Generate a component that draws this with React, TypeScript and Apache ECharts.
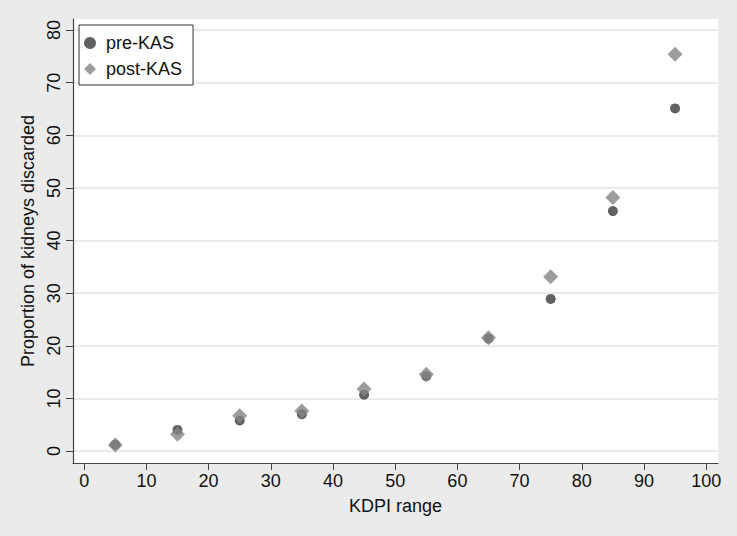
import React, { useEffect, useRef } from "react";
import * as echarts from "echarts";

const kdpiRange = [5, 15, 25, 35, 45, 55, 65, 75, 85, 95];
const preKAS = [1.2, 4.0, 5.8, 7.0, 10.7, 14.2, 21.4, 28.9, 45.6, 65.1];
const postKAS = [1.15, 3.2, 6.7, 7.6, 11.8, 14.6, 21.5, 33.1, 48.2, 75.4];
const xTicks = [0, 10, 20, 30, 40, 50, 60, 70, 80, 90, 100];
const yTicks = [0, 10, 20, 30, 40, 50, 60, 70, 80];

const FONT = 'Arial, "Liberation Sans", sans-serif';

export default function App() {
  const ref = useRef<HTMLDivElement>(null);
  useEffect(() => {
    if (!ref.current) return;
    const chart = echarts.init(ref.current, null, { renderer: "svg" });
    chart.setOption({
      animation: false,
      backgroundColor: "#ebebeb",
      textStyle: { fontFamily: FONT },
      grid: {
        left: 73,
        right: 19,
        top: 19,
        bottom: 73,
        show: true,
        backgroundColor: "#ffffff",
        borderWidth: 0,
      },
      legend: {
        orient: "vertical",
        left: 79,
        top: 25,
        padding: [9, 11, 7, 5],
        itemGap: 8,
        itemWidth: 12,
        itemHeight: 12,
        backgroundColor: "#ffffff",
        borderColor: "#333333",
        borderWidth: 1,
        borderRadius: 0,
        textStyle: { fontSize: 18, color: "#111", fontFamily: FONT, padding: [0, 0, 0, 5] },
        data: [
          { name: "pre-KAS", icon: "circle" },
          { name: "post-KAS", icon: "diamond" },
        ],
      },
      xAxis: {
        type: "value",
        min: -1.8,
        max: 101.9,
        name: "KDPI range",
        nameLocation: "middle",
        nameGap: 34,
        nameTextStyle: { fontSize: 18, color: "#111", fontFamily: FONT },
        axisLine: { show: true, onZero: false, lineStyle: { color: "#444", width: 1.2 } },
        axisTick: { show: true, length: 7, customValues: xTicks, lineStyle: { color: "#444" } },
        axisLabel: { customValues: xTicks, fontSize: 18, color: "#111", margin: 9, fontFamily: FONT },
        splitLine: { show: false },
      },
      yAxis: {
        type: "value",
        min: -2.28,
        max: 82.1,
        name: "Proportion of kidneys discarded",
        nameLocation: "middle",
        nameGap: 35,
        nameTextStyle: { fontSize: 18, color: "#111", fontFamily: FONT },
        axisLine: { show: true, onZero: false, lineStyle: { color: "#444", width: 1.2 } },
        axisTick: { show: true, length: 7, customValues: yTicks, lineStyle: { color: "#444" } },
        axisLabel: { customValues: yTicks, fontSize: 18, color: "#111", margin: 10, rotate: 90, fontFamily: FONT },
        splitLine: { show: true, customValues: yTicks, lineStyle: { color: "#e3e3e3", width: 1.5 } },
      },
      series: [
        {
          name: "pre-KAS",
          type: "scatter",
          symbol: "circle",
          symbolSize: 10,
          itemStyle: { color: "#3a3a3a" },
          data: kdpiRange.map((x, i) => [x, preKAS[i]]),
        },
        {
          name: "post-KAS",
          type: "scatter",
          symbol: "diamond",
          symbolSize: 15,
          itemStyle: { color: "#858585" },
          data: kdpiRange.map((x, i) => [x, postKAS[i]]),
        },
      ],
    });
    return () => chart.dispose();
  }, []);
  return <div ref={ref} style={{ width: 737, height: 536, position: "fixed", left: 0, top: 0 }} />;
}
